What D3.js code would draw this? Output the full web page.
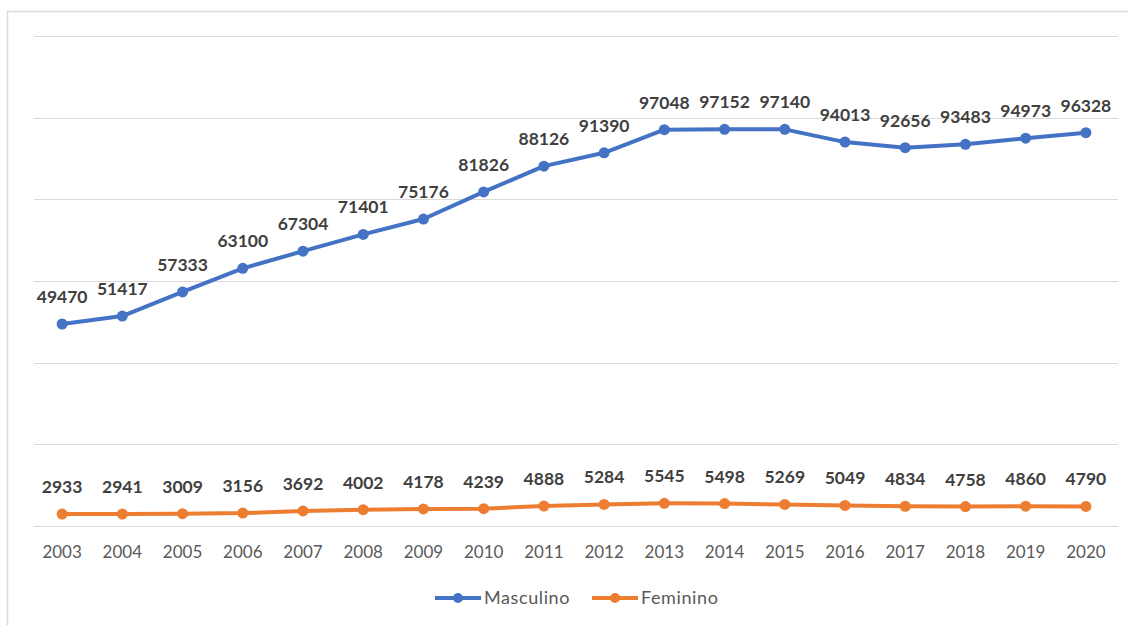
<!DOCTYPE html>
<html>
<head>
<meta charset="utf-8">
<script src="https://cdn.jsdelivr.net/npm/d3@7"></script>
<style>
  html, body { margin: 0; padding: 0; background: #fff; }
  svg { display: block; }
</style>
</head>
<body>
<svg id="chart" width="1128" height="625"></svg>
<script>
const years = ["2003","2004","2005","2006","2007","2008","2009","2010","2011","2012","2013","2014","2015","2016","2017","2018","2019","2020"];
const masculino = [49470,51417,57333,63100,67304,71401,75176,81826,88126,91390,97048,97152,97140,94013,92656,93483,94973,96328];
const feminino = [2933,2941,3009,3156,3692,4002,4178,4239,4888,5284,5545,5498,5269,5049,4834,4758,4860,4790];
const yTicks = [0,20000,40000,60000,80000,100000,120000];
const seriesNames = ["Masculino","Feminino"];
const seriesColors = ["#4472C4","#ED7D31"];

const svg = d3.select("#chart");
const W = 1128, H = 625;
const font = "Lato, 'Open Sans', sans-serif";

// outer frame (top and left edges visible)
svg.append("line").attr("x1",7).attr("x2",W).attr("y1",11.5).attr("y2",11.5).attr("stroke","#d9d9d9").attr("stroke-width",1.5);
svg.append("line").attr("x1",7.5).attr("x2",7.5).attr("y1",11).attr("y2",H).attr("stroke","#d9d9d9").attr("stroke-width",1.5);

const plotL = 32, plotR = 1116, plotT = 36, plotB = 526;
const x = d3.scaleBand().domain(years).range([plotL, plotR]);
const y = d3.scaleLinear().domain([0,120000]).range([plotB, plotT]);
const cx = d => x(d) + x.bandwidth()/2;

// gridlines
svg.append("g").selectAll("line").data(yTicks).join("line")
  .attr("x1", plotL+2).attr("x2", plotR+2)
  .attr("y1", d => Math.round(y(d))+0.5).attr("y2", d => Math.round(y(d))+0.5)
  .attr("stroke", "#d9d9d9").attr("stroke-width", 1.2);

// x axis labels
const xAxis = d3.axisBottom(x).tickSize(0).tickPadding(0);
const gx = svg.append("g").attr("transform", `translate(0,${plotB})`).call(xAxis);
gx.select(".domain").remove();
gx.selectAll("text").attr("y", 32).attr("dy", 0)
  .attr("font-family", font).attr("font-size", 17).attr("fill", "#595959");

const allSeries = [masculino, feminino];
allSeries.forEach((vals, i) => {
  const data = years.map((yr, j) => ({yr, v: vals[j]}));
  const line = d3.line().x(d => cx(d.yr)).y(d => y(d.v));
  svg.append("path").datum(data).attr("d", line)
    .attr("fill","none").attr("stroke", seriesColors[i]).attr("stroke-width", 4)
    .attr("stroke-linejoin","round");
  svg.append("g").selectAll("circle").data(data).join("circle")
    .attr("cx", d => cx(d.yr)).attr("cy", d => y(d.v)).attr("r", 5.5)
    .attr("fill", seriesColors[i]);
  svg.append("g").selectAll("text").data(data).join("text")
    .attr("x", d => cx(d.yr)).attr("y", d => y(d.v) - 21)
    .attr("text-anchor","middle")
    .attr("font-family", font).attr("font-size", 17.5).attr("font-weight", 700)
    .attr("fill", "#404040")
    .text(d => d.v);
});

// legend
const legendItems = [{x0: 435, tx: 484}, {x0: 592, tx: 641}];
seriesNames.forEach((name, i) => {
  const g = svg.append("g");
  const ly = 598;
  g.append("line").attr("x1", legendItems[i].x0).attr("x2", legendItems[i].x0 + 46)
    .attr("y1", ly).attr("y2", ly).attr("stroke", seriesColors[i]).attr("stroke-width", 4);
  g.append("circle").attr("cx", legendItems[i].x0 + 23).attr("cy", ly).attr("r", 5).attr("fill", seriesColors[i]);
  g.append("text").attr("x", legendItems[i].tx).attr("y", ly).attr("dy", "0.35em")
    .attr("font-family", font).attr("font-size", 18).attr("letter-spacing", 0.6)
    .attr("fill", "#595959").text(name);
});
</script>
</body>
</html>
